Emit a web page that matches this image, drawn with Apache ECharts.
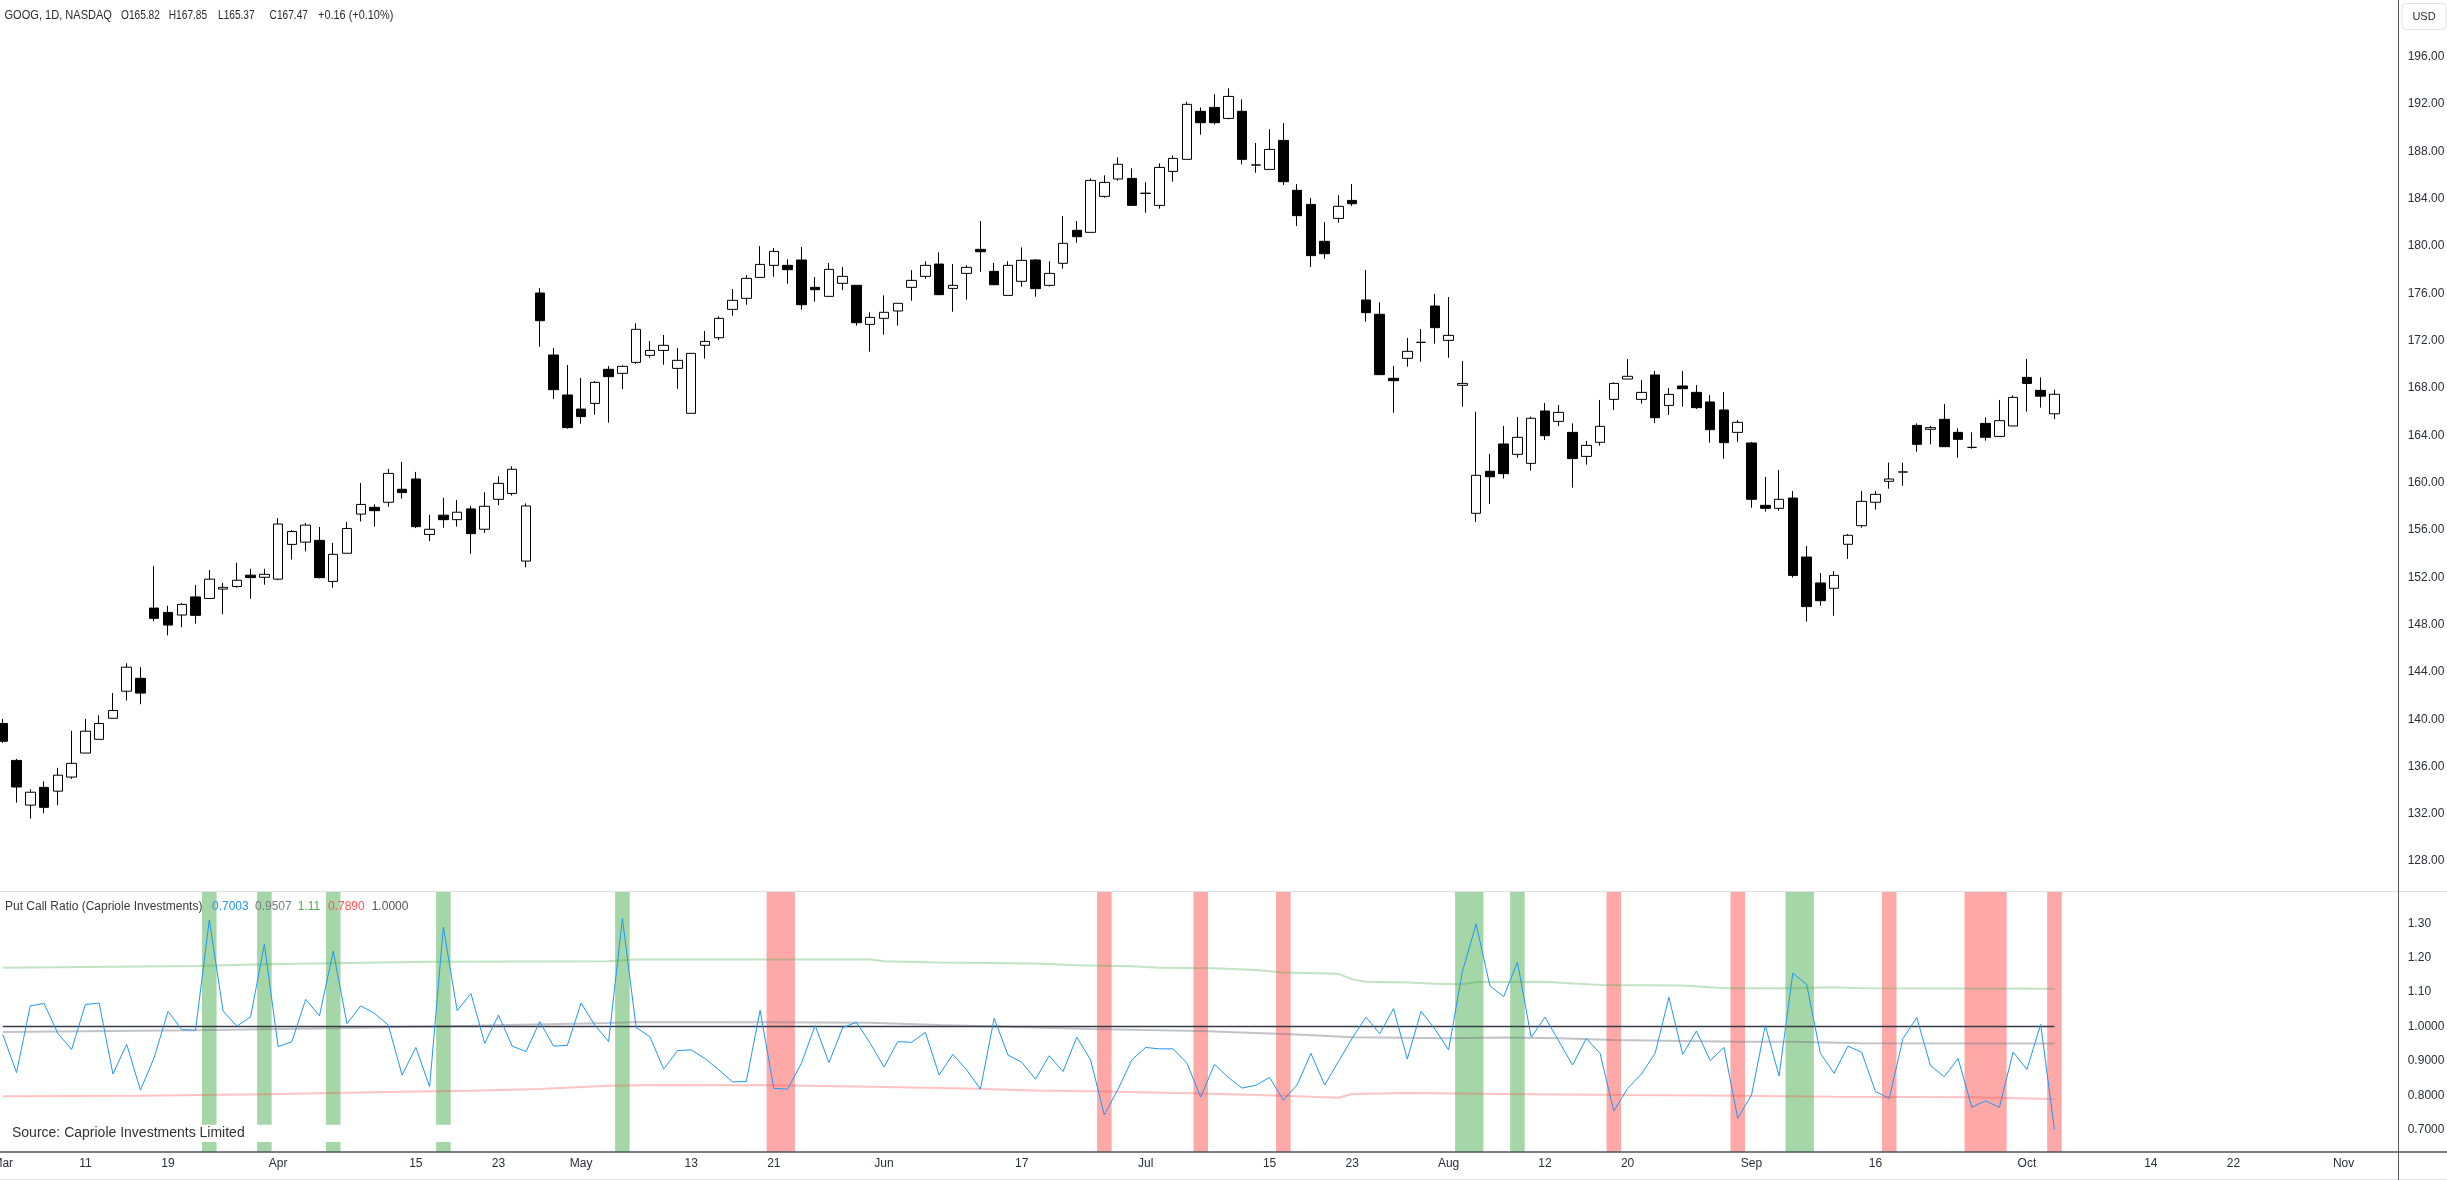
<!DOCTYPE html>
<html><head><meta charset="utf-8">
<script src="https://cdn.jsdelivr.net/npm/echarts@6/dist/echarts.min.js"></script>
<style>html,body{margin:0;padding:0;background:#fff}#c{width:2447px;height:1180px}</style>
</head><body><div id="c"></div>
<script>
// ---- trading-day categories (2024) ----
const marDays=[1,4,5,6,7,8,11,12,13,14,15,18,19,20,21,22,25,26,27,28];
const aprDays=[1,2,3,4,5,8,9,10,11,12,15,16,17,18,19,22,23,24,25,26,29,30];
const mayDays=[1,2,3,6,7,8,9,10,13,14,15,16,17,20,21,22,23,24,28,29,30,31];
const junDays=[3,4,5,6,7,10,11,12,13,14,17,18,20,21,24,25,26,27,28];
const julDays=[1,2,3,5,8,9,10,11,12,15,16,17,18,19,22,23,24,25,26,29,30,31];
const augDays=[1,2,5,6,7,8,9,12,13,14,15,16,19,20,21,22,23,26,27,28,29,30];
const sepDays=[3,4,5,6,9,10,11,12,13,16,17,18,19,20,23,24,25,26,27,30];
const octDays=[1,2,3,4,7,8,9,10,11,14,15,16,17,18,21,22,23,24,25,28,29,30,31];
const novDays=[1,4,5,6,7];

// ---- x tick labels ----
const tickDates=['03-01','03-11','03-19','04-01','04-15','04-23','05-01','05-13','05-21','06-03','06-17','07-01','07-15','07-23','08-01','08-12','08-20','09-03','09-16','10-01','10-14','10-22','11-01'];
const tickText=['Mar','11','19','Apr','15','23','May','13','21','Jun','17','Jul','15','23','Aug','12','20','Sep','16','Oct','14','22','Nov'];

// ---- GOOG daily OHLC (Mar 1 – Oct 3, 2024) ----
const open=[139.64,136.52,132.74,134.24,133.92,135.11,137.14,138.30,140.08,142.37,143.46,149.40,149.03,148.81,150.34,150.21,151.00,151.22,152.18,152.00,
151.84,154.78,154.97,155.12,151.65,154.03,157.34,157.91,158.34,159.44,160.31,155.62,157.25,156.87,157.78,156.06,158.59,159.09,153.37,176.03,
170.79,167.41,166.22,166.70,169.58,169.24,170.17,170.76,171.18,169.66,165.86,171.61,172.25,174.65,175.58,177.35,178.37,178.37,178.82,176.51,
175.75,176.85,176.68,173.38,173.89,174.51,176.51,177.44,178.48,176.42,177.69,179.72,177.86,175.83,177.02,178.82,176.68,178.54,181.33,181.16,
184.20,185.67,185.72,184.45,183.44,186.31,187.33,191.39,191.72,190.79,191.39,186.85,186.48,188.93,184.71,183.52,180.40,182.34,183.86,175.44,
174.23,168.82,170.51,171.86,174.93,172.03,168.23,157.41,160.96,163.27,162.39,161.63,166.06,165.18,164.25,162.22,163.41,167.04,168.76,167.04,
169.10,166.53,168.17,167.63,166.82,166.14,164.25,163.35,158.08,157.83,158.70,153.71,151.52,151.07,154.79,156.36,158.34,160.11,160.90,164.84,
164.51,165.35,164.25,162.98,165.01,163.91,164.79,168.90,167.80,165.82];
const high=[140.02,136.64,134.08,134.74,135.89,139.02,140.02,140.33,142.21,144.74,144.40,152.94,149.59,149.81,151.34,152.62,151.53,153.22,152.72,152.72,
157.00,156.00,156.59,156.25,154.91,156.69,159.97,158.16,161.16,161.75,160.91,157.28,158.72,158.53,158.03,159.19,160.53,161.38,158.25,176.45,
171.38,169.94,168.84,168.59,169.86,169.91,173.47,171.97,172.48,171.38,170.93,172.82,174.06,176.37,177.55,180.00,179.83,178.88,179.92,177.38,
178.57,178.23,176.68,174.40,175.83,175.16,177.97,178.71,179.47,178.48,178.37,182.12,178.57,178.71,179.89,178.90,178.71,182.54,182.12,185.72,
185.98,187.50,186.57,185.38,186.99,187.67,192.20,191.72,192.82,193.33,192.40,188.71,189.89,190.40,185.24,184.06,182.03,184.29,185.24,177.97,
175.24,169.86,172.23,172.99,175.95,175.69,170.28,166.00,162.42,164.79,165.55,165.58,166.73,166.56,165.01,163.52,166.99,168.48,170.45,168.68,
169.44,168.00,169.44,168.25,167.41,167.66,165.30,163.44,160.48,161.07,159.29,154.64,152.36,152.53,155.66,159.29,159.29,161.69,161.69,165.01,
164.79,166.65,164.59,164.25,165.52,166.99,167.38,170.45,168.90,167.85];
const low=[137.99,132.95,131.61,132.05,132.74,134.96,137.14,138.30,140.08,141.58,141.27,148.28,147.09,147.78,148.09,150.21,148.87,151.12,150.18,151.37,
151.75,153.50,154.19,151.90,151.12,154.03,156.72,156.28,157.97,158.66,156.16,155.06,156.19,156.28,154.00,155.75,158.09,158.91,152.84,171.50,
167.07,164.56,164.98,165.74,165.07,167.91,170.03,170.56,169.97,167.94,165.86,170.48,172.06,174.11,175.04,177.35,177.41,176.82,174.62,175.30,
175.75,176.28,173.27,171.07,172.51,173.27,175.38,177.24,175.89,174.45,175.47,177.83,176.73,175.83,176.56,175.72,176.57,178.09,180.28,181.16,
184.09,185.53,183.44,182.82,183.16,185.44,187.33,189.41,190.29,190.71,186.91,186.20,186.48,185.16,181.69,178.23,178.93,181.98,183.38,173.61,
169.13,165.91,169.80,170.22,171.75,170.56,166.42,156.67,158.19,160.34,162.11,161.01,163.60,164.79,159.58,161.52,163.13,166.14,168.76,166.68,
165.04,165.72,166.42,166.23,163.38,162.03,163.46,157.88,157.55,157.63,151.98,148.25,149.60,148.75,153.55,156.19,157.72,159.49,159.74,162.62,
163.24,163.04,162.11,162.87,163.55,163.91,164.79,166.00,166.34,165.37];
const close=[138.14,134.27,133.83,132.55,135.27,136.27,138.99,139.64,140.74,144.40,142.21,148.53,147.96,149.71,148.78,151.84,151.15,151.75,151.97,152.25,
156.50,155.87,156.41,151.97,153.94,156.12,158.16,157.63,160.78,159.16,156.28,156.06,156.87,157.50,155.69,158.00,159.94,161.13,158.03,173.69,
167.86,164.65,165.58,168.48,168.96,169.83,172.96,171.18,171.61,170.34,170.93,171.94,173.89,175.41,177.27,178.45,179.55,178.00,175.04,176.31,
178.03,177.44,173.52,173.97,174.40,175.16,177.10,178.37,175.89,176.68,178.20,179.52,176.73,178.37,178.79,176.40,177.69,180.23,180.79,185.55,
185.38,186.91,183.44,184.47,186.65,187.41,191.98,190.43,190.43,192.65,187.33,186.85,188.17,185.44,182.57,179.19,179.35,183.36,183.58,174.37,
169.13,168.62,171.10,171.86,173.10,172.45,168.39,160.62,160.50,160.76,163.83,165.44,163.97,165.94,162.03,163.15,164.76,168.39,168.99,167.63,
165.49,167.46,167.94,166.34,164.48,163.38,165.10,158.59,157.83,158.59,152.16,149.52,150.02,152.16,155.55,158.42,159.01,160.31,160.90,163.24,
164.65,163.04,163.66,162.98,163.83,165.24,167.21,168.39,167.31,167.47];

// ---- Put/Call ratio ----
const pcr=[0.977,0.866,1.060,1.067,0.980,0.933,1.064,1.068,0.862,0.948,0.815,0.910,1.044,0.991,0.989,1.310,1.045,1.001,1.028,1.239,
0.941,0.956,1.079,1.031,1.219,1.008,1.060,1.038,1.004,0.859,0.939,0.825,1.289,1.046,1.096,0.951,1.033,0.943,0.927,1.014,
0.943,0.945,1.068,1.004,0.956,1.314,0.997,0.970,0.876,0.930,0.932,0.907,0.874,0.839,0.840,1.047,0.820,0.818,0.893,1.003,
0.895,0.997,1.012,0.951,0.882,0.956,0.954,0.983,0.859,0.919,0.874,0.818,1.024,0.917,0.896,0.847,0.915,0.869,0.969,0.903,
0.743,0.818,0.903,0.939,0.935,0.935,0.893,0.795,0.890,0.852,0.821,0.829,0.852,0.786,0.830,0.922,0.830,0.898,0.966,1.027,
0.979,1.052,0.905,1.044,0.993,0.932,1.159,1.298,1.118,1.087,1.187,0.969,1.027,0.958,0.888,0.965,0.922,0.754,0.820,0.862,
0.922,1.085,0.919,0.987,0.901,0.939,0.733,0.801,1.003,0.856,1.155,1.123,0.922,0.864,0.943,0.925,0.811,0.791,0.965,1.026,
0.886,0.854,0.907,0.765,0.784,0.765,0.926,0.875,1.006,0.7003];
const upperBand=[[0,1.171],[14,1.176],[19,1.181],[24,1.184],[31,1.188],[44,1.190],[46,1.195],[63,1.195],[64,1.190],[68,1.186],[75,1.183],[78,1.178],[82,1.175],[84,1.171],[88,1.169],[91,1.164],[93,1.157],[97,1.153],[98,1.137],[99,1.130],[102,1.128],[104,1.124],[106,1.123],[107,1.129],[112,1.130],[114,1.125],[116,1.121],[122,1.119],[125,1.111],[130,1.111],[133,1.114],[135,1.111],[149,1.11]];
const midBand=[[0,0.984],[14,0.989],[24,0.995],[34,1.002],[44,1.010],[46,1.013],[56,1.012],[63,1.011],[68,1.004],[75,0.997],[79,0.993],[87,0.987],[94,0.977],[98,0.969],[105,0.966],[109,0.968],[113,0.966],[117,0.961],[126,0.956],[130,0.956],[135,0.951],[149,0.9507]];
const lowerBand=[[0,0.797],[10,0.799],[19,0.803],[29,0.810],[34,0.813],[39,0.818],[44,0.828],[48,0.830],[56,0.829],[63,0.825],[70,0.820],[75,0.814],[80,0.811],[87,0.805],[93,0.799],[97,0.793],[98,0.804],[102,0.807],[109,0.804],[118,0.801],[126,0.799],[133,0.796],[143,0.794],[149,0.789]];
const refLevel=[[0,1.0],[149,1.0]];
const greenSignals=[15,19,24,32,45,106,107,110,130,131];
const redSignals=[56,57,80,87,93,117,126,137,143,144,145,149];

// ---- build categories ----
const monthLists=[['03',marDays],['04',aprDays],['05',mayDays],['06',junDays],['07',julDays],['08',augDays],['09',sepDays],['10',octDays],['11',novDays]];
const dates=[];
monthLists.forEach(([m,ds])=>ds.forEach(d=>dates.push(m+'-'+String(d).padStart(2,'0'))));

const candleData=open.map((o,i)=>[o,close[i],low[i],high[i]]);
const signalData=greenSignals.map(i=>[i,1]).concat(redSignals.map(i=>[i,2]));

const FONT="'Liberation Sans',Arial,sans-serif";
const TXT='#2a2e39';

const chart=echarts.init(document.getElementById('c'),null,{renderer:'canvas'});
const gridL=2.75, gridR=48.3;
function hdr(x,text,sx){return {type:'text',z:101,x:x,y:15,scaleX:sx,style:{text:text,fill:'#2a2a2a',font:'13px '+FONT,verticalAlign:'middle'}};}
function leg(x,text,color){return {type:'text',z:101,x:x,y:906.7,style:{text:text,fill:color,font:'12px '+FONT,verticalAlign:'middle'}};}
chart.setOption({
  animation:false,
  backgroundColor:'#ffffff',
  grid:[
    {left:gridL,right:gridR,top:9.47,height:899.03,containLabel:false,outerBoundsMode:'none'},
    {left:gridL,right:gridR,top:888.9,height:275.2,containLabel:false,outerBoundsMode:'none'}
  ],
  xAxis:[
    {type:'category',gridIndex:0,data:dates,boundaryGap:false,axisLine:{show:false},axisTick:{show:false},axisLabel:{show:false},splitLine:{show:false}},
    {type:'category',gridIndex:1,data:dates,boundaryGap:false,offset:-12,axisLine:{show:false},axisTick:{show:false},splitLine:{show:false},
     axisLabel:{show:true,margin:6,color:TXT,fontSize:12,fontFamily:FONT,hideOverlap:false,
       interval:(idx,val)=>tickDates.indexOf(val)>=0,
       formatter:(val)=>{const k=tickDates.indexOf(val);return k>=0?tickText[k]:'';}}}
  ],
  yAxis:[
    {type:'value',gridIndex:0,position:'right',min:124,max:200,interval:4,
     axisLine:{show:false},axisTick:{show:false},splitLine:{show:false},
     axisLabel:{margin:9,color:TXT,fontSize:12,fontFamily:FONT,showMinLabel:false,showMaxLabel:false,formatter:v=>v.toFixed(2)}},
    {type:'value',gridIndex:1,position:'right',min:0.6,max:1.4,interval:0.1,
     axisLine:{show:false},axisTick:{show:false},splitLine:{show:false},
     axisLabel:{margin:9,color:TXT,fontSize:12,fontFamily:FONT,showMinLabel:false,showMaxLabel:false,formatter:v=>v>1.05?v.toFixed(2):v.toFixed(4)}}
  ],
  series:[
    {type:'candlestick',xAxisIndex:0,yAxisIndex:0,data:candleData,barWidth:10,clip:false,
     itemStyle:{color:'#ffffff',color0:'#000000',borderColor:'#000000',borderColor0:'#000000',borderColorDoji:'#000000',borderWidth:1}},
    {type:'custom',xAxisIndex:1,yAxisIndex:1,data:signalData,z:1,clip:false,
     encode:{x:0},
     renderItem:(params,api)=>{
       const c=api.coord([api.value(0),1]);
       const w=api.size([1,0])[0];
       const cs=params.coordSys;
       const top=cs.y+2.1, bot=cs.y+cs.height-12.1;
       return {type:'rect',shape:{x:c[0]-w/2-0.4,y:top,width:w+0.8,height:bot-top},
               style:{fill:api.value(1)===1?'#a5d6a7':'#ffa8a8'}};
     }},
    {type:'line',xAxisIndex:1,yAxisIndex:1,data:upperBand,showSymbol:false,symbol:'none',z:3,
     lineStyle:{color:'#4caf50',width:2,opacity:0.35}},
    {type:'line',xAxisIndex:1,yAxisIndex:1,data:midBand,showSymbol:false,symbol:'none',z:3,
     lineStyle:{color:'#787b86',width:2,opacity:0.45}},
    {type:'line',xAxisIndex:1,yAxisIndex:1,data:lowerBand,showSymbol:false,symbol:'none',z:3,
     lineStyle:{color:'#ff5252',width:2,opacity:0.35}},
    {type:'line',xAxisIndex:1,yAxisIndex:1,data:refLevel,showSymbol:false,symbol:'none',z:4,
     lineStyle:{color:'#363a45',width:1.5}},
    {type:'line',xAxisIndex:1,yAxisIndex:1,data:pcr,showSymbol:false,symbol:'none',z:5,
     lineStyle:{color:'#2196f3',width:1}}
  ],
  graphic:[
    {type:'line',z:100,shape:{x1:0,y1:891.5,x2:2447,y2:891.5},style:{stroke:'#dfe1e8',lineWidth:1}},
    {type:'line',z:100,shape:{x1:0,y1:1152,x2:2447,y2:1152},style:{stroke:'#50535e',lineWidth:1.5}},
    {type:'line',z:100,shape:{x1:0,y1:1179.5,x2:2447,y2:1179.5},style:{stroke:'#e0e3eb',lineWidth:1}},
    {type:'line',z:100,shape:{x1:2398.5,y1:0,x2:2398.5,y2:1180},style:{stroke:'#50535e',lineWidth:1}},
    {type:'rect',z:100,shape:{x:2402,y:3.5,width:44,height:26,r:4},style:{fill:'#fff',stroke:'#e0e3eb',lineWidth:1}},
    {type:'text',z:101,x:2424,y:16.5,style:{text:'USD',fill:TXT,font:'11px '+FONT,align:'center',verticalAlign:'middle'}},
    hdr(4.5,'GOOG, 1D, NASDAQ',0.85),
    hdr(121,'O165.82',0.78),
    hdr(168.8,'H167.85',0.78),
    hdr(218,'L165.37',0.78),
    hdr(269.6,'C167.47',0.78),
    hdr(318,'+0.16 (+0.10%)',0.84),
    leg(5,'Put Call Ratio (Capriole Investments)','#3a3a3a'),
    leg(212,'0.7003','#2196f3'),
    leg(255,'0.9507','#787b86'),
    leg(297.7,'1.11','#4caf50'),
    leg(328,'0.7890','#ff5252'),
    leg(371.7,'1.0000','#555'),
    {type:'rect',z:100,shape:{x:0,y:1124.7,width:460,height:17.3},style:{fill:'#ffffff'}},
    {type:'text',z:101,x:12,y:1133.5,style:{text:'Source: Capriole Investments Limited',fill:'#333',font:'14px '+FONT,verticalAlign:'middle'}}
  ]
});
</script></body></html>
